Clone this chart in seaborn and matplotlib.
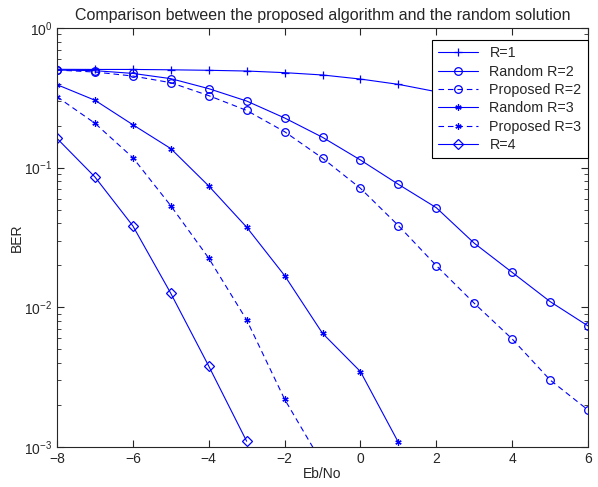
import numpy as np
import pandas as pd
import seaborn as sns
import matplotlib.pyplot as plt

sns.set_style("ticks")
plt.rcParams['font.family'] = ['Liberation Sans', 'DejaVu Sans']

ebno = [-8, -7, -6, -5, -4, -3, -2, -1, 0, 1, 2, 3, 4, 5, 6]

ber_r1 = [0.506, 0.505, 0.505, 0.502, 0.498, 0.492, 0.479, 0.461, 0.431, 0.395, 0.35, 0.31, 0.26, 0.22, 0.18]
ber_rand_r2 = [0.5, 0.495, 0.473, 0.434, 0.368, 0.30, 0.227, 0.165, 0.1135, 0.076, 0.0517, 0.0288, 0.0178, 0.011, 0.00736]
ber_prop_r2 = [0.5, 0.484, 0.453, 0.406, 0.328, 0.257, 0.181, 0.117, 0.0712, 0.0385, 0.0199, 0.0107, 0.00594, 0.00302, 0.00184]
ber_rand_r3 = [0.393, 0.304, 0.203, 0.137, 0.074, 0.0375, 0.0169, 0.00652, 0.00347, 0.00108]
ber_prop_r3 = [0.322, 0.208, 0.118, 0.0534, 0.0225, 0.00813, 0.0022, 0.00076]
ber_r4 = [0.162, 0.0858, 0.0383, 0.0126, 0.0038, 0.0011]

dashed = (0, (5, 3.5))
series = [
    ("R=1", ber_r1, "+", "-"),
    ("Random R=2", ber_rand_r2, "o", "-"),
    ("Proposed R=2", ber_prop_r2, "o", dashed),
    ("Random R=3", ber_rand_r3, (6, 2, 0), "-"),
    ("Proposed R=3", ber_prop_r3, (6, 2, 0), dashed),
    ("R=4", ber_r4, "D", "-"),
]
sizes = {"+": 6, "o": 5.5, "D": 4.8}

fig = plt.figure(figsize=(5.98, 4.87), dpi=100)
ax = fig.add_axes([0.0953, 0.0821, 0.8880, 0.8604])

for name, vals, mk, ls in series:
    df = pd.DataFrame({"Eb/No": ebno[:len(vals)], "BER": vals})
    ms = sizes.get(mk, 4.5) if isinstance(mk, str) else 4.5
    sns.lineplot(data=df, x="Eb/No", y="BER", ax=ax, color="blue", lw=0.8,
                 linestyle=ls, marker=mk, markersize=ms, mfc="none",
                 mec="blue", mew=0.9, label=name)

ax.set_yscale("log")
ax.set_xlim(-8, 6)
ax.set_ylim(1e-3, 1)
ax.set_xticks(range(-8, 7, 2))
ax.tick_params(which="both", direction="in", top=True, right=True, labelsize=10)
ax.tick_params(which="major", length=5)
ax.tick_params(which="minor", length=3)
for s in ax.spines.values():
    s.set_linewidth(0.8)
    s.set_visible(True)
ax.set_xlabel("Eb/No", fontsize=10, labelpad=0.5)
ax.set_ylabel("BER", fontsize=10, labelpad=0)
ax.set_title("Comparison between the proposed algorithm and the random solution", fontsize=11.5)

leg = ax.legend(loc="upper right", bbox_to_anchor=(1.0, 1 - 12 / 419), borderaxespad=0,
                fancybox=False, edgecolor="black", framealpha=1,
                fontsize=10.3, handlelength=2.8, labelspacing=0.3, borderpad=0.45)
leg.get_frame().set_linewidth(0.8)

fig.savefig("out.png", dpi=100)
